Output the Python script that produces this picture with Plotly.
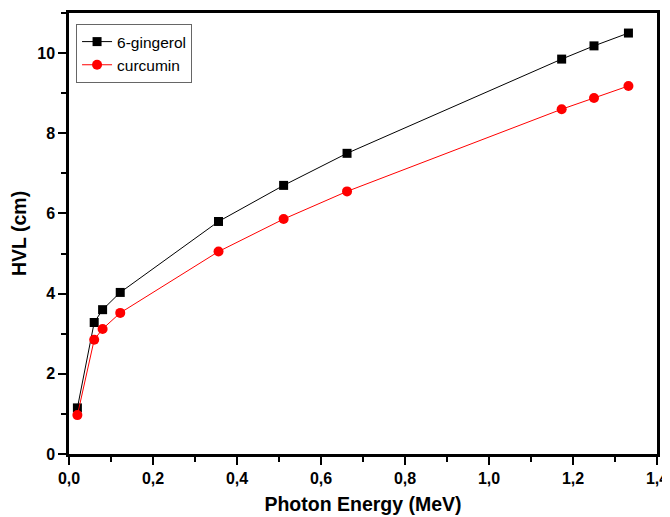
import plotly.graph_objects as go

energy = [0.02, 0.06, 0.08, 0.122, 0.356, 0.511, 0.662, 1.173, 1.25, 1.332]
gingerol = [1.15, 3.28, 3.60, 4.03, 5.80, 6.70, 7.50, 9.85, 10.18, 10.50]
curcumin = [0.97, 2.85, 3.12, 3.52, 5.05, 5.86, 6.55, 8.60, 8.88, 9.18]

FONT = "Liberation Sans, Arial"

fig = go.Figure()
fig.add_trace(go.Scatter(x=energy, y=gingerol, mode="lines+markers", name="6-gingerol",
                         line=dict(color="black", width=1),
                         marker=dict(symbol="square", size=9, color="black")))
fig.add_trace(go.Scatter(x=energy, y=curcumin, mode="lines+markers", name="curcumin",
                         line=dict(color="red", width=1),
                         marker=dict(symbol="circle", size=10, color="red")))

axis_common = dict(showline=True, linecolor="black", linewidth=2.5, mirror=True,
                   ticks="outside", ticklen=8, tickwidth=2, tickcolor="black",
                   showgrid=False, zeroline=False, automargin=False,
                   tickfont=dict(family=FONT, size=16, color="black", weight="bold"))

fig.update_layout(
    width=662, height=509,
    margin=dict(l=61, r=13, t=5, b=63),
    paper_bgcolor="white", plot_bgcolor="white",
    separators=",.",
    showlegend=True,
    legend=dict(x=0.012, y=0.975, xanchor="left", yanchor="top",
                bordercolor="#666666", borderwidth=1, bgcolor="white",
                font=dict(family=FONT, size=15.5, color="black"),
                tracegroupgap=0, itemwidth=30),
    xaxis=dict(range=[0, 1.4], dtick=0.2, tick0=0, tickformat=".1f",
               minor=dict(ticks="outside", ticklen=5, tickwidth=2, dtick=0.1, tickcolor="black"),
               title=dict(text="<b>Photon Energy (MeV)</b>", standoff=12,
                          font=dict(family=FONT, size=19.5, color="black")),
               **axis_common),
    yaxis=dict(range=[0, 11], dtick=2, tick0=0,
               minor=dict(ticks="outside", ticklen=5, tickwidth=2, dtick=1, tickcolor="black"),
               title=dict(text="<b>HVL (cm)</b>", standoff=14,
                          font=dict(family=FONT, size=19.5, color="black")),
               **axis_common),
)

fig.write_html("out.html")
